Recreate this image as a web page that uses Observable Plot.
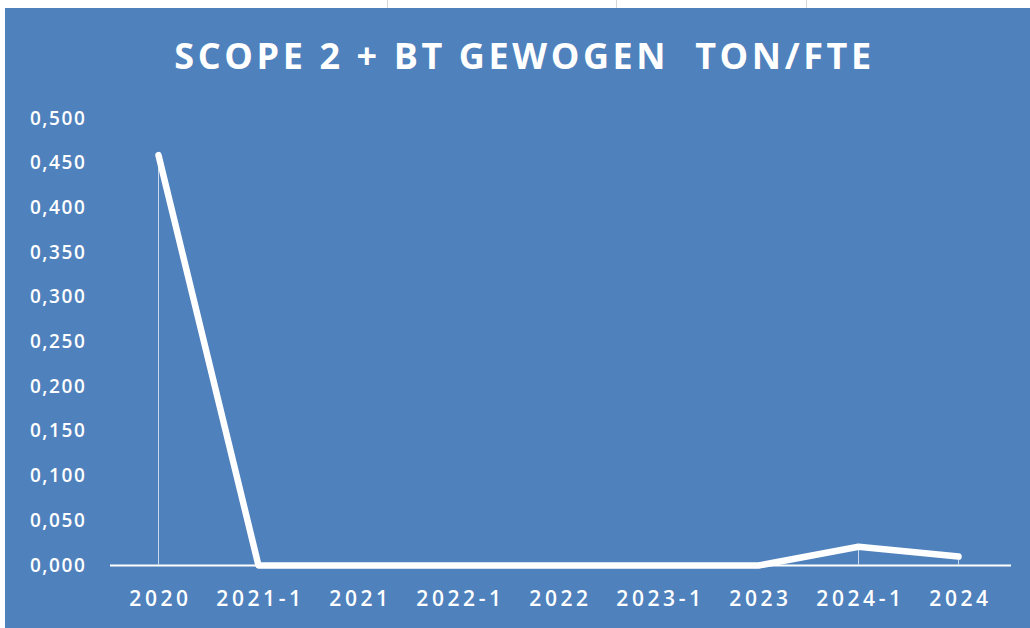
<!DOCTYPE html>
<html>
<head>
<meta charset="utf-8">
<script src="https://cdn.jsdelivr.net/npm/d3@7"></script>
<script src="https://cdn.jsdelivr.net/npm/@observablehq/plot@0.6"></script>
<style>
  html, body { margin: 0; padding: 0; background: #ffffff; width: 1030px; height: 628px; overflow: hidden; }
  .grid { position: absolute; top: 0; width: 1px; height: 8px; background: #d6d6d6; }
  #panel { position: absolute; left: 5px; top: 8px; width: 1025px; height: 620px; background: #4f81bd; }
  #title { position: absolute; left: 0; top: 30px; width: 100%; padding-left: 14px; box-sizing: border-box;
           text-align: center; font-family: "Open Sans", sans-serif; font-weight: 700; font-size: 36px;
           line-height: 36px; letter-spacing: 3.6px; color: #ffffff; white-space: pre; }
  #chart { position: absolute; left: 0; top: 90px; }
  #chart svg text { fill: #ffffff; }
  #chart svg g.ylab text { font-size: 19px !important; letter-spacing: 1.6px; font-weight: 600; }
  #chart svg g.xlab text { font-size: 21px !important; letter-spacing: 3.6px; font-weight: 600; }
</style>
</head>
<body>
<div class="grid" style="left:387px"></div>
<div class="grid" style="left:616px"></div>
<div class="grid" style="left:806px"></div>
<div id="panel">
  <div id="title">SCOPE 2 + BT GEWOGEN  TON/FTE</div>
  <div id="chart"></div>
</div>
<script>
const categories = ["2020", "2021-1", "2021", "2022-1", "2022", "2023-1", "2023", "2024-1", "2024"];
const values = [0.459, 0, 0, 0, 0, 0, 0, 0.021, 0.010];
const yTicks = [0, 0.05, 0.1, 0.15, 0.2, 0.25, 0.3, 0.35, 0.4, 0.45, 0.5];

const data = categories.map((c, i) => ({period: c, value: values[i]}));
const fmt = d => d.toFixed(3).replace(".", ",");

const plot = Plot.plot({
  width: 1025,
  height: 530,
  marginLeft: 105,
  marginRight: 19,
  marginTop: 20,
  marginBottom: 63,
  style: {background: "transparent", color: "#ffffff", fontFamily: "'Open Sans', sans-serif"},
  x: {type: "point", domain: categories, range: [153, 953], padding: 0},
  y: {domain: [0, 0.5]},
  marks: [
    Plot.axisY({ticks: yTicks, tickFormat: fmt, tickSize: 0, tickPadding: 24, label: null}),
    Plot.axisX({tickSize: 0, tickPadding: 26, label: null, dx: 2}),
    Plot.ruleY([0], {stroke: "#ffffff", strokeWidth: 2}),
    Plot.ruleX(data, {x: "period", y1: 0, y2: "value", stroke: "#c9d8ec", strokeWidth: 1}),
    Plot.line(data, {x: "period", y: "value", stroke: "#ffffff", strokeWidth: 6.5, strokeLinecap: "round", strokeLinejoin: "round"})
  ]
});

d3.select(plot).selectAll('[aria-label="y-axis tick label"]').classed("ylab", true);
d3.select(plot).selectAll('[aria-label="x-axis tick label"]').classed("xlab", true);
document.getElementById("chart").appendChild(plot);
</script>
</body>
</html>
